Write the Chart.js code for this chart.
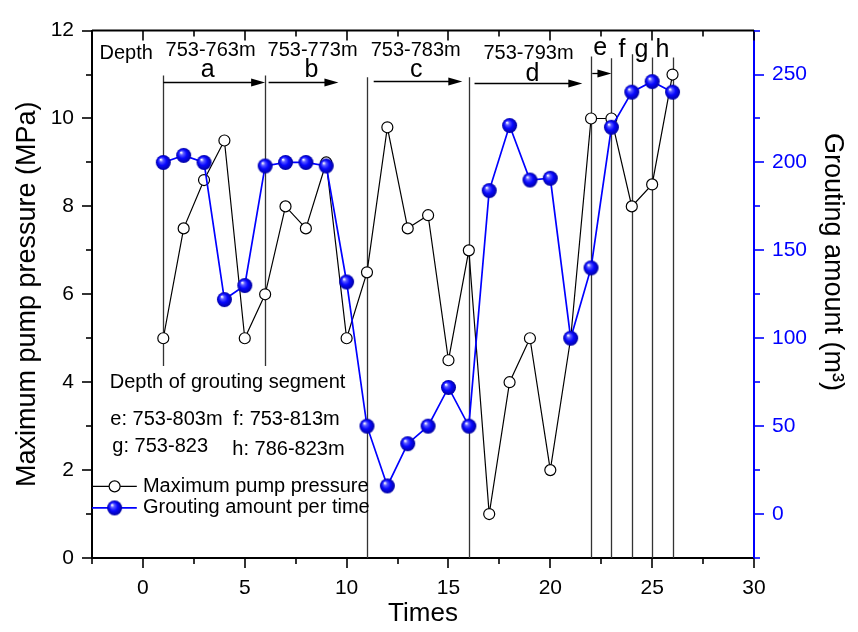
<!DOCTYPE html>
<html lang="en">
<head>
<meta charset="utf-8">
<title>Grouting</title>
<style>
  body { margin: 0; background: #fff; }
  #chart-container { width: 858px; height: 632px; }
</style>
<script src="https://cdn.jsdelivr.net/npm/chart.js"></script>
</head>
<body>
<div id="chart-container">
  <canvas id="groutChart" width="858" height="632"></canvas>
</div>
<script>
// values
var times = [1, 2, 3, 4, 5, 6, 7, 8, 9, 10, 11, 12, 13, 14, 15, 16, 17, 18, 19, 20, 21, 22, 23, 24, 25, 26];
var pressure = [5.0, 7.5, 8.6, 9.5, 5.0, 6.0, 8.0, 7.5, 9.0, 5.0, 6.5, 9.8, 7.5, 7.8, 4.5, 7.0, 1.0, 4.0, 5.0, 2.0, 5.0, 10.0, 10.0, 8.0, 8.5, 11.0];
var grouting = [200, 204, 200, 122, 130, 198, 200, 200, 198, 132, 50, 16, 40, 50, 72, 50, 184, 221, 190, 191, 100, 140, 220, 240, 246, 240];

var xTicks = [0, 5, 10, 15, 20, 25, 30];
var xMinor = [-2.5, 2.5, 7.5, 12.5, 17.5, 22.5, 27.5];
var leftTicks = [0, 2, 4, 6, 8, 10, 12];
var leftMinor = [1, 3, 5, 7, 9, 11];
var rightTicks = [0, 50, 100, 150, 200, 250];
var rightMinor = [-25, 25, 75, 125, 175, 225, 275];

// grouting segment boundaries (x in Times, y in MPa units)
var boundaryX = [1, 6, 11, 16, 22, 23, 24, 25, 26];
var boundaryTop = [10.98, 10.98, 10.94, 10.94, 11.41, 11.37, 11.46, 11.39, 11.39];
var boundaryBottom = [4.37, 4.37, 0, 0, 0, 0, 0, 0, 0];

// arrows a..e
var arrowFrom = [1, 6.17, 11.33, 16.28, 22.06];
var arrowTo = [6, 9.6, 15.68, 21.57, 23.0];
var arrowY = [10.82, 10.82, 10.85, 10.80, 11.03];

// labels: [text, x, y, align, size]
var notes = [
  ['Depth', -2.13, 11.49, 'left', 20],
  ['753-763m', 3.32, 11.54, 'center', 20],
  ['753-773m', 8.33, 11.54, 'center', 20],
  ['753-783m', 13.39, 11.54, 'center', 20],
  ['753-793m', 18.93, 11.47, 'center', 20],
  ['a', 3.18, 11.09, 'center', 25],
  ['b', 8.27, 11.09, 'center', 25],
  ['c', 13.42, 11.09, 'center', 25],
  ['d', 19.12, 11.02, 'center', 25],
  ['e', 22.45, 11.60, 'center', 25],
  ['f', 23.52, 11.56, 'center', 25],
  ['g', 24.47, 11.56, 'center', 25],
  ['h', 25.50, 11.56, 'center', 25],
  ['Depth of grouting segment', -1.63, 3.99, 'left', 20],
  ['e: 753-803m', -1.60, 3.16, 'left', 20],
  ['f: 753-813m', 4.42, 3.16, 'left', 20],
  ['g: 753-823', -1.50, 2.54, 'left', 20],
  ['h: 786-823m', 4.39, 2.48, 'left', 20]
];

var FONT = '"Liberation Sans", Arial, sans-serif';
var BLUE = '#0000ff';

function makeSphere(r) {
  var c = document.createElement('canvas');
  var size = Math.ceil(r * 2) + 2;
  c.width = size;
  c.height = size;
  var g = c.getContext('2d');
  var cx = size / 2, cy = size / 2;
  var grad = g.createRadialGradient(cx - r * 0.35, cy - r * 0.4, r * 0.05, cx, cy, r);
  grad.addColorStop(0, '#ffffff');
  grad.addColorStop(0.22, '#5c5cff');
  grad.addColorStop(0.55, '#0808ff');
  grad.addColorStop(1, '#0000a0');
  g.fillStyle = grad;
  g.beginPath();
  g.arc(cx, cy, r, 0, Math.PI * 2);
  g.fill();
  return c;
}
var sphere = makeSphere(7.5);

function tickMarks(ctx, scale, values, len, side, area) {
  values.forEach(function (v) {
    var p = Math.round(scale.getPixelForValue(v));
    ctx.beginPath();
    if (side === 'bottom') { ctx.moveTo(p, area.bottom); ctx.lineTo(p, area.bottom + len); }
    if (side === 'top') { ctx.moveTo(p, area.top); ctx.lineTo(p, area.top + len); }
    if (side === 'left') { ctx.moveTo(area.left, p); ctx.lineTo(area.left - len, p); }
    if (side === 'right') { ctx.moveTo(area.right, p); ctx.lineTo(area.right + len, p); }
    ctx.stroke();
  });
}

var overlay = {
  id: 'overlay',
  beforeDatasetsDraw: function (chart) {
    var ctx = chart.ctx, xs = chart.scales.x, ys = chart.scales.y;
    ctx.save();
    ctx.strokeStyle = '#333';
    ctx.lineWidth = 1.3;
    for (var i = 0; i < boundaryX.length; i++) {
      var px = Math.round(xs.getPixelForValue(boundaryX[i])) + 0.5;
      ctx.beginPath();
      ctx.moveTo(px, ys.getPixelForValue(boundaryTop[i]));
      ctx.lineTo(px, ys.getPixelForValue(boundaryBottom[i]));
      ctx.stroke();
    }
    ctx.restore();
  },
  afterDraw: function (chart) {
    var ctx = chart.ctx, a = chart.chartArea;
    var xs = chart.scales.x, ys = chart.scales.y, y2 = chart.scales.y2;
    ctx.save();

    // top frame line
    ctx.strokeStyle = '#000';
    ctx.lineWidth = 2;
    ctx.beginPath();
    ctx.moveTo(a.left, a.top);
    ctx.lineTo(a.right, a.top);
    ctx.stroke();

    // tick marks
    ctx.lineWidth = 1.6;
    tickMarks(ctx, xs, xTicks, 10, 'bottom', a);
    tickMarks(ctx, xs, xMinor, 6, 'bottom', a);
    tickMarks(ctx, xs, xTicks, 10, 'top', a);
    tickMarks(ctx, xs, xMinor, 6, 'top', a);
    tickMarks(ctx, ys, leftTicks, 10, 'left', a);
    tickMarks(ctx, ys, leftMinor, 6, 'left', a);
    ctx.strokeStyle = BLUE;
    tickMarks(ctx, y2, rightTicks, 10, 'right', a);
    tickMarks(ctx, y2, rightMinor, 6, 'right', a);

    // right axis title, sits a little above centre in the original
    ctx.save();
    ctx.translate(832, 262);
    ctx.rotate(Math.PI / 2);
    ctx.fillStyle = '#000';
    ctx.font = '27px ' + FONT;
    ctx.textAlign = 'center';
    ctx.textBaseline = 'middle';
    ctx.fillText('Grouting amount (m³)', 0, 0);
    ctx.restore();

    // arrows
    ctx.strokeStyle = '#000';
    ctx.fillStyle = '#000';
    ctx.lineWidth = 1.3;
    for (var i = 0; i < arrowFrom.length; i++) {
      var x0 = xs.getPixelForValue(arrowFrom[i]);
      var x1 = xs.getPixelForValue(arrowTo[i]);
      var y = Math.round(ys.getPixelForValue(arrowY[i])) + 0.5;
      ctx.beginPath();
      ctx.moveTo(x0, y);
      ctx.lineTo(x1 - 10, y);
      ctx.stroke();
      ctx.beginPath();
      ctx.moveTo(x1, y);
      ctx.lineTo(x1 - 14, y - 4);
      ctx.lineTo(x1 - 14, y + 4);
      ctx.closePath();
      ctx.fill();
    }

    // texts
    ctx.textBaseline = 'middle';
    notes.forEach(function (n) {
      ctx.font = n[4] + 'px ' + FONT;
      ctx.textAlign = n[3];
      ctx.fillText(n[0], xs.getPixelForValue(n[1]), ys.getPixelForValue(n[2]));
    });

    // legend
    var ly1 = ys.getPixelForValue(1.63), ly2 = ys.getPixelForValue(1.14);
    var lx0 = xs.getPixelForValue(-2.5), lx1 = xs.getPixelForValue(-0.3), lm = xs.getPixelForValue(-1.39);
    var tx = xs.getPixelForValue(0);
    ctx.lineWidth = 1.2;
    ctx.strokeStyle = '#000';
    ctx.beginPath(); ctx.moveTo(lx0, ly1); ctx.lineTo(lx1, ly1); ctx.stroke();
    ctx.fillStyle = '#fff';
    ctx.beginPath(); ctx.arc(lm, ly1, 5.5, 0, Math.PI * 2); ctx.fill(); ctx.stroke();
    ctx.lineWidth = 1.7;
    ctx.strokeStyle = BLUE;
    ctx.beginPath(); ctx.moveTo(lx0, ly2); ctx.lineTo(lx1, ly2); ctx.stroke();
    ctx.drawImage(sphere, lm - sphere.width / 2, ly2 - sphere.height / 2);
    ctx.fillStyle = '#000';
    ctx.font = '20px ' + FONT;
    ctx.textAlign = 'left';
    ctx.fillText('Maximum pump pressure', tx, ly1);
    ctx.fillText('Grouting amount per time', tx, ly2);

    ctx.restore();
  }
};

Chart.defaults.font.family = FONT;
Chart.defaults.color = '#000';

var ctx = document.getElementById('groutChart').getContext('2d');
var groutChart = new Chart(ctx, {
  type: 'line',
  data: {
    datasets: [{
      label: 'Maximum pump pressure',
      data: times.map(function (t, i) { return { x: t, y: pressure[i] }; }),
      yAxisID: 'y',
      borderColor: '#000',
      borderWidth: 1.2,
      pointStyle: 'circle',
      pointRadius: 5.5,
      pointBorderWidth: 1.2,
      pointBorderColor: '#000',
      pointBackgroundColor: '#fff',
      tension: 0,
      order: 2
    }, {
      label: 'Grouting amount per time',
      data: times.map(function (t, i) { return { x: t, y: grouting[i] }; }),
      yAxisID: 'y2',
      borderColor: BLUE,
      borderWidth: 1.7,
      pointStyle: sphere,
      pointRadius: 7,
      tension: 0,
      order: 1
    }]
  },
  options: {
    responsive: false,
    animation: false,
    layout: { padding: { top: 19, left: 0, right: 0, bottom: 0 } },
    plugins: { legend: { display: false }, tooltip: { enabled: false } },
    scales: {
      x: {
        type: 'linear',
        min: -2.5,
        max: 30,
        afterBuildTicks: function (s) { s.ticks = xTicks.map(function (v) { return { value: v }; }); },
        afterFit: function (s) { s.height = 74; },
        grid: { display: false, drawTicks: false },
        border: { display: true, color: '#000', width: 2 },
        ticks: { color: '#000', font: { size: 21 }, padding: 18, maxRotation: 0 },
        title: { display: true, text: 'Times', color: '#000', font: { size: 26 }, padding: { top: 0, bottom: 3 } }
      },
      y: {
        position: 'left',
        min: 0,
        max: 12,
        afterBuildTicks: function (s) { s.ticks = leftTicks.map(function (v) { return { value: v }; }); },
        afterFit: function (s) { s.width = 92; },
        grid: { display: false, drawTicks: false },
        border: { display: true, color: '#000', width: 2 },
        ticks: { color: '#000', font: { size: 21 }, padding: 18 },
        title: { display: true, text: 'Maximum pump pressure (MPa)', color: '#000', font: { size: 27 }, padding: { top: 11, bottom: 0 } }
      },
      y2: {
        position: 'right',
        min: -25,
        max: 275,
        afterBuildTicks: function (s) { s.ticks = rightTicks.map(function (v) { return { value: v }; }); },
        afterFit: function (s) { s.width = 104; },
        grid: { display: false, drawTicks: false },
        border: { display: true, color: BLUE, width: 2 },
        ticks: { color: BLUE, font: { size: 21 }, padding: 18 },
        title: { display: false }
      }
    }
  },
  plugins: [overlay]
});
</script>
</body>
</html>
